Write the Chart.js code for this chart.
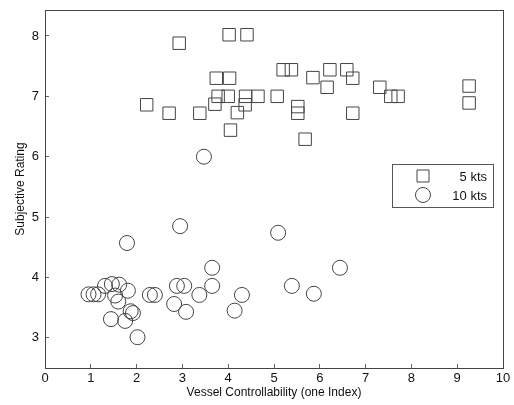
<!DOCTYPE html>
<html>
<head>
<meta charset="utf-8">
<script src="https://cdn.jsdelivr.net/npm/chart.js@4.4.1/dist/chart.umd.min.js"></script>
<style>
  html, body { margin: 0; padding: 0; background: #fff; }
  #wrap { width: 514px; height: 405px; }
</style>
</head>
<body>
<div id="wrap"><canvas id="chart" width="514" height="405"></canvas></div>
<script>
// 5 kts runs (squares)
const fiveKtsX = [2.93, 4.02, 4.41, 2.22, 2.71, 3.38, 3.74, 4.03, 3.78, 4.0, 3.71, 4.05, 4.2, 4.38, 4.37, 4.65,
                  5.07, 5.2, 5.38, 5.52, 5.52, 5.68, 5.85, 6.16, 6.22, 6.59, 6.72, 6.72, 7.31, 7.55, 7.71, 9.26, 9.26];
const fiveKtsY = [7.88, 8.02, 8.02, 6.86, 6.72, 6.72, 7.30, 7.30, 7.0, 7.0, 6.87, 6.44, 6.73, 7.0, 6.86, 7.0,
                  7.0, 7.44, 7.44, 6.83, 6.72, 6.29, 7.31, 7.15, 7.44, 7.44, 7.30, 6.72, 7.15, 7.0, 7.0, 7.17, 6.89];

// 10 kts runs (circles)
const tenKtsX = [0.95, 1.06, 1.16, 1.31, 1.46, 1.62, 1.81, 1.53, 1.6, 1.87, 1.92, 1.44, 1.75, 2.02, 2.29, 2.4,
                 2.88, 3.04, 2.82, 3.08, 3.37, 3.65, 3.65, 4.3, 4.14, 2.95, 1.79, 3.47, 5.09, 6.44, 5.39, 5.87];
const tenKtsY = [3.72, 3.72, 3.72, 3.86, 3.89, 3.88, 3.78, 3.70, 3.6, 3.44, 3.41, 3.31, 3.28, 3.01, 3.71, 3.71,
                 3.86, 3.86, 3.56, 3.43, 3.71, 3.86, 4.16, 3.71, 3.45, 4.85, 4.57, 6.0, 4.74, 4.16, 3.86, 3.73];

const xTicks = [0, 1, 2, 3, 4, 5, 6, 7, 8, 9, 10];
const yTicks = [3, 4, 5, 6, 7, 8];
const seriesLabels = ['5 kts', '10 kts'];

const pointsOf = (xs, ys) => xs.map((x, i) => ({ x: x, y: ys[i] }));
const ink = '#444';
const fontFamily = '"Liberation Sans", Arial, sans-serif';

// box round the plot area plus the legend inside it
const framePlugin = {
    id: 'frame',
    afterDraw(chart) {
        const ctx = chart.ctx;
        const a = chart.chartArea;
        ctx.save();
        ctx.strokeStyle = '#444';
        ctx.lineWidth = 1;
        ctx.strokeRect(a.left + 0.5, a.top + 0.5, a.right - a.left, a.bottom - a.top);

        // legend
        const lx = 392, ly = 164, lw = 101, lh = 43;
        ctx.strokeStyle = '#555';
        ctx.strokeRect(lx + 0.5, ly + 0.5, lw, lh);
        const rows = [176, 195];
        chart.data.datasets.forEach((ds, i) => {
            ctx.fillStyle = 'rgba(0,0,0,0)';
            ctx.strokeStyle = ink;
            ctx.lineWidth = 1;
            Chart.helpers.drawPoint(ctx, {
                pointStyle: ds.pointStyle,
                radius: ds.pointStyle === 'rect' ? 8.5 : 7.5,
                borderWidth: 1
            }, 423, rows[i]);
            ctx.font = '13px ' + fontFamily;
            ctx.fillStyle = '#111';
            ctx.textAlign = 'right';
            ctx.textBaseline = 'middle';
            ctx.fillText(ds.label, 487, rows[i] + 1);
        });
        ctx.restore();
    }
};

new Chart(document.getElementById('chart'), {
    type: 'scatter',
    data: {
        datasets: [{
            label: seriesLabels[0],
            data: pointsOf(fiveKtsX, fiveKtsY),
            pointStyle: 'rect',
            pointRadius: 8.8,
            borderColor: ink,
            backgroundColor: 'rgba(0,0,0,0)',
            borderWidth: 1
        }, {
            label: seriesLabels[1],
            data: pointsOf(tenKtsX, tenKtsY),
            pointStyle: 'circle',
            pointRadius: 7.5,
            borderColor: ink,
            backgroundColor: 'rgba(0,0,0,0)',
            borderWidth: 1
        }]
    },
    options: {
        responsive: false,
        animation: false,
        layout: { padding: { top: 10, right: 11, bottom: 0, left: 0 } },
        plugins: {
            legend: { display: false },
            tooltip: { enabled: false }
        },
        scales: {
            x: {
                type: 'linear',
                min: 0,
                max: 10,
                afterBuildTicks: s => { s.ticks = xTicks.map(v => ({ value: v })); },
                afterFit: s => { s.height = 37; s.paddingLeft = 0; s.paddingRight = 0; },
                grid: { drawOnChartArea: false, tickLength: -4, color: '#666' },
                border: { color: '#444' },
                ticks: { padding: 7, color: '#111', font: { family: fontFamily, size: 13 } },
                title: {
                    display: true,
                    text: 'Vessel Controllability (one Index)',
                    color: '#111',
                    font: { family: fontFamily, size: 12 },
                    padding: { top: 0, bottom: 5 }
                }
            },
            y: {
                type: 'linear',
                min: 2.5,
                max: 8.43,
                afterBuildTicks: s => { s.ticks = yTicks.map(v => ({ value: v })); },
                afterFit: s => { s.width = 45; s.paddingTop = 0; s.paddingBottom = 0; },
                grid: { drawOnChartArea: false, tickLength: -4, color: '#666' },
                border: { color: '#444' },
                ticks: { padding: 10, color: '#111', font: { family: fontFamily, size: 13 } },
                title: {
                    display: true,
                    text: 'Subjective Rating',
                    color: '#111',
                    font: { family: fontFamily, size: 12 },
                    padding: { top: 13, bottom: 0 }
                }
            }
        }
    },
    plugins: [framePlugin]
});
</script>
</body>
</html>
